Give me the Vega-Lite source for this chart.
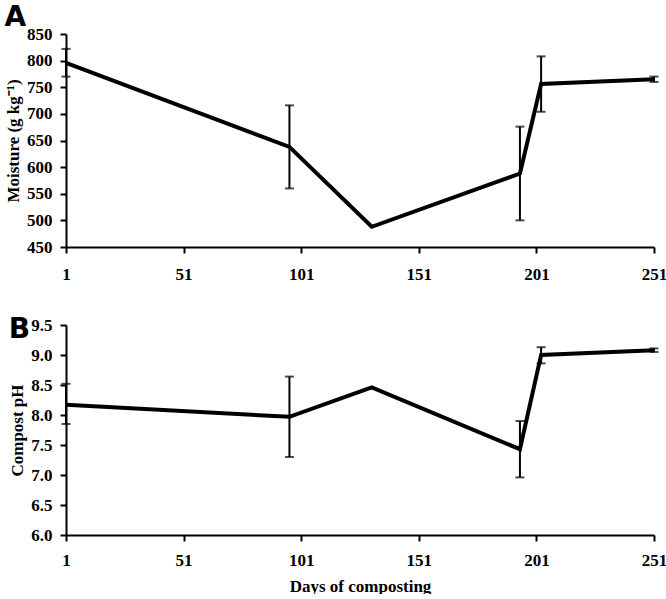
{
  "$schema": "https://vega.github.io/schema/vega-lite/v6.json",
  "padding": {"left": 4, "top": 4, "right": 0, "bottom": 0},
  "background": "white",
  "config": {
    "view": {"stroke": null},
    "axis": {
      "labelFont": "Liberation Serif", "labelFontWeight": "bold", "labelFontSize": 17, "labelColor": "black",
      "labelOverlap": false, "labelFlush": false,
      "titleFont": "Liberation Serif", "titleFontWeight": "bold", "titleFontSize": 17, "titleColor": "black",
      "domainColor": "black", "domainWidth": 2, "tickColor": "black", "tickWidth": 2, "tickSize": 6, "grid": false
    },
    "axisY": {"labelOverlap": false},
    "axisLeft": {"labelOverlap": false},
    "axisQuantitative": {"labelOverlap": false},
    "title": {"font": "DejaVu Sans", "fontSize": 28, "fontWeight": "bold", "anchor": "start", "frame": "bounds", "color": "black"}
  },
  "datasets": {
    "moisture": [
      {"day": 1, "value": 796, "lo": 770, "hi": 822},
      {"day": 96, "value": 638, "lo": 560, "hi": 716},
      {"day": 131, "value": 488},
      {"day": 194, "value": 588, "lo": 500, "hi": 676},
      {"day": 203, "value": 756, "lo": 704, "hi": 808},
      {"day": 251, "value": 765, "lo": 760, "hi": 770}
    ],
    "ph": [
      {"day": 1, "value": 8.17, "lo": 7.85, "hi": 8.52},
      {"day": 96, "value": 7.97, "lo": 7.30, "hi": 8.64},
      {"day": 131, "value": 8.46},
      {"day": 194, "value": 7.43, "lo": 6.96, "hi": 7.90},
      {"day": 203, "value": 9.0, "lo": 8.86, "hi": 9.13},
      {"day": 251, "value": 9.08, "lo": 9.05, "hi": 9.11}
    ]
  },
  "spacing": 34,
  "vconcat": [
    {
      "title": {"text": "A", "offset": -7},
      "width": 588, "height": 213,
      "data": {"name": "moisture"},
      "encoding": {
        "x": {"field": "day", "type": "quantitative", "scale": {"domain": [1, 251], "nice": false, "zero": false},
              "axis": {"values": [1, 51, 101, 151, 201, 251], "title": null, "labelPadding": 13, "labelOverlap": false, "labelFlush": false}},
        "y": {"field": "value", "type": "quantitative", "scale": {"domain": [450, 850], "nice": false, "zero": false},
              "axis": {"values": [450, 500, 550, 600, 650, 700, 750, 800, 850], "labelPadding": 8, "labelOverlap": false}, "title": "Moisture (g kg⁻¹)"}
      },
      "layer": [
        {
          "mark": {"type": "line", "color": "black", "strokeWidth": 4}
        },
        {
          "transform": [{"filter": "datum.lo != null"}],
          "mark": {"type": "rule", "color": "black", "strokeWidth": 2},
          "encoding": {
            "y": {"field": "lo", "type": "quantitative", "title": "Moisture (g kg⁻¹)", "axis": {"values": [450, 500, 550, 600, 650, 700, 750, 800, 850], "labelPadding": 8, "labelOverlap": false}},
            "y2": {"field": "hi"}
          }
        },
        {
          "transform": [{"filter": "datum.lo != null"}],
          "mark": {"type": "tick", "orient": "horizontal", "color": "black", "size": 9, "thickness": 2},
          "encoding": {
            "y": {"field": "lo", "type": "quantitative", "title": "Moisture (g kg⁻¹)", "axis": {"values": [450, 500, 550, 600, 650, 700, 750, 800, 850], "labelPadding": 8, "labelOverlap": false}}
          }
        },
        {
          "transform": [{"filter": "datum.hi != null"}],
          "mark": {"type": "tick", "orient": "horizontal", "color": "black", "size": 9, "thickness": 2},
          "encoding": {
            "y": {"field": "hi", "type": "quantitative", "title": "Moisture (g kg⁻¹)", "axis": {"values": [450, 500, 550, 600, 650, 700, 750, 800, 850], "labelPadding": 8, "labelOverlap": false}}
          }
        }
      ]
    },
    {
      "title": {"text": "B", "offset": -28},
      "width": 588, "height": 210,
      "data": {"name": "ph"},
      "encoding": {
        "x": {"field": "day", "type": "quantitative", "scale": {"domain": [1, 251], "nice": false, "zero": false},
              "axis": {"values": [1, 51, 101, 151, 201, 251], "labelPadding": 11, "titlePadding": 10, "labelOverlap": false, "labelFlush": false}, "title": "Days of composting"},
        "y": {"field": "value", "type": "quantitative", "scale": {"domain": [6, 9.5], "nice": false, "zero": false},
              "axis": {"values": [6, 6.5, 7, 7.5, 8, 8.5, 9, 9.5], "format": ".1f", "labelPadding": 8, "labelOverlap": false}, "title": "Compost pH"}
      },
      "layer": [
        {
          "mark": {"type": "line", "color": "black", "strokeWidth": 4}
        },
        {
          "transform": [{"filter": "datum.lo != null"}],
          "mark": {"type": "rule", "color": "black", "strokeWidth": 2},
          "encoding": {
            "y": {"field": "lo", "type": "quantitative", "title": "Compost pH", "axis": {"values": [6, 6.5, 7, 7.5, 8, 8.5, 9, 9.5], "format": ".1f", "labelPadding": 8, "labelOverlap": false}},
            "y2": {"field": "hi"}
          }
        },
        {
          "transform": [{"filter": "datum.lo != null"}],
          "mark": {"type": "tick", "orient": "horizontal", "color": "black", "size": 9, "thickness": 2},
          "encoding": {
            "y": {"field": "lo", "type": "quantitative", "title": "Compost pH", "axis": {"values": [6, 6.5, 7, 7.5, 8, 8.5, 9, 9.5], "format": ".1f", "labelPadding": 8, "labelOverlap": false}}
          }
        },
        {
          "transform": [{"filter": "datum.hi != null"}],
          "mark": {"type": "tick", "orient": "horizontal", "color": "black", "size": 9, "thickness": 2},
          "encoding": {
            "y": {"field": "hi", "type": "quantitative", "title": "Compost pH", "axis": {"values": [6, 6.5, 7, 7.5, 8, 8.5, 9, 9.5], "format": ".1f", "labelPadding": 8, "labelOverlap": false}}
          }
        }
      ]
    }
  ]
}
